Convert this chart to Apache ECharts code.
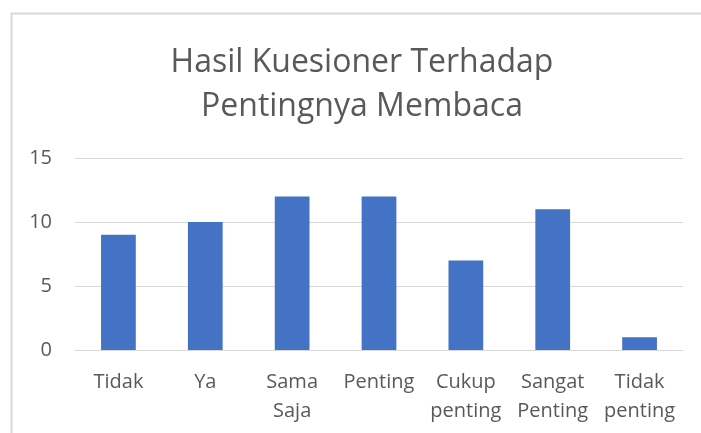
<!DOCTYPE html>
<html><head><meta charset="utf-8">
<script src="https://cdn.jsdelivr.net/npm/echarts@6/dist/echarts.min.js"></script>
<style>html,body{margin:0;padding:0;background:#fff}#c{width:701px;height:433px}</style>
</head><body><div id="c"></div>
<script>
const categories = ["Tidak", "Ya", "Sama\nSaja", "Penting", "Cukup\npenting", "Sangat\nPenting", "Tidak\npenting"];
const values = [9, 10, 12, 12, 7, 11, 1];
const yTicks = [0, 5, 10, 15];
const titleText = "Hasil Kuesioner Terhadap\nPentingnya Membaca";
const FONT = "Open Sans";
const chart = echarts.init(document.getElementById('c'));
chart.setOption({
  animation: false,
  graphic: [{type: 'rect', shape: {x: 11.5, y: 13.5, width: 720, height: 440}, style: {fill: 'none', stroke: '#d9d9d9', lineWidth: 2}, silent: true}],
  title: {text: titleText, left: 357, textAlign: 'center', top: 36, textStyle: {fontFamily: FONT, fontSize: 32, fontWeight: 'normal', color: '#595959', lineHeight: 44}},
  grid: {left: 75, right: 18, top: 158, bottom: 83},
  xAxis: {type: 'category', data: categories, axisLine: {lineStyle: {color: '#d9d9d9', width: 1}}, axisTick: {show: false},
    axisLabel: {fontFamily: FONT, fontSize: 20, color: '#595959', lineHeight: 29, margin: 18, interval: 0}},
  yAxis: {type: 'value', min: yTicks[0], max: yTicks[yTicks.length-1], interval: 5, axisLine: {show: false}, axisTick: {show: false},
    splitLine: {lineStyle: {color: '#d9d9d9', width: 1}},
    axisLabel: {fontFamily: FONT, fontSize: 20, color: '#595959', margin: 23}},
  series: [{type: 'bar', data: values, barWidth: '40%', itemStyle: {color: '#4472C4'}}]
});
</script></body></html>
